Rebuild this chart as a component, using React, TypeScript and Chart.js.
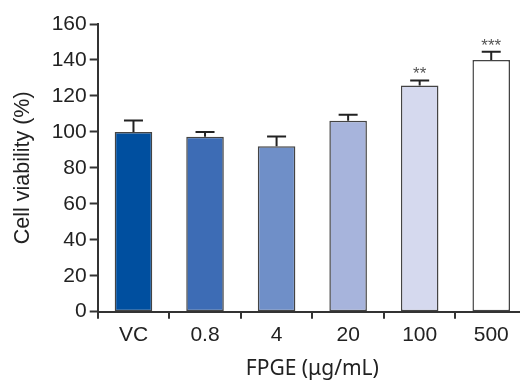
import React, { useEffect, useRef } from 'react';
import { Chart, registerables } from 'chart.js';

Chart.register(...registerables);

const categories = ['VC', '0.8', '4', '20', '100', '500'];
const viability = [100, 97.3, 92, 106.2, 125.8, 140];
const errorUp = [6.3, 2.7, 5.5, 3.3, 2.8, 4.6];
const significance = ['', '', '', '', '**', '***'];
const barColors = ['#004f9f', '#3d6cb5', '#6f8fc8', '#a7b4dc', '#d5d9ee', '#ffffff'];
const yMin = 0;
const yMax = 160;
const yStep = 20;

export default function App() {
  const ref = useRef<HTMLCanvasElement>(null);

  useEffect(() => {
    if (!ref.current) return;
    const errPlugin = {
      id: 'errorBars',
      afterDatasetsDraw(chart: any) {
        const ctx = chart.ctx;
        const x = chart.scales.x;
        const y = chart.scales.y;
        ctx.save();
        ctx.strokeStyle = '#222';
        ctx.lineWidth = 2;
        viability.forEach((v, i) => {
          const px = x.getPixelForValue(i);
          const yb = y.getPixelForValue(v);
          const yt = y.getPixelForValue(v + errorUp[i]);
          ctx.beginPath();
          ctx.moveTo(px, yb);
          ctx.lineTo(px, yt);
          ctx.moveTo(px - 9.5, yt);
          ctx.lineTo(px + 9.5, yt);
          ctx.stroke();
          if (significance[i]) {
            ctx.fillStyle = '#555';
            ctx.font = '17px "Liberation Sans", Arial, sans-serif';
            ctx.textAlign = 'center';
            ctx.textBaseline = 'alphabetic';
            ctx.fillText(significance[i], px, yt - 1);
          }
        });
        ctx.restore();
      },
    };

    const chart = new Chart(ref.current, {
      type: 'bar',
      data: {
        labels: categories,
        datasets: [
          {
            data: viability,
            backgroundColor: barColors,
            borderColor: '#444',
            borderWidth: 1.5,
            borderSkipped: false,
            categoryPercentage: 1,
            barPercentage: 0.525,
          },
        ],
      },
      options: {
        responsive: false,
        animation: false,
        layout: { padding: { top: 24, left: 0, right: 0, bottom: 0 } },
        plugins: { legend: { display: false }, tooltip: { enabled: false } },
        scales: {
          x: {
            grid: {
              offset: true,
              drawOnChartArea: false,
              drawTicks: true,
              tickLength: 7,
              tickWidth: 2,
              tickColor: '#333',
              color: '#333',
              lineWidth: 2,
            },
            border: { color: '#333', width: 2 },
            ticks: {
              color: '#222',
              font: { family: '"Liberation Sans", Arial, sans-serif', size: 21 },
              padding: 4,
              maxRotation: 0,
            },
            title: {
              display: true,
              text: 'FPGE (μg/mL)',
              color: '#222',
              font: { family: '"Noto Sans", sans-serif', size: 21 },
              padding: { top: 0, bottom: 0 },
            },
            afterFit: (s: any) => {
              s.height = 70.3;
            },
          },
          y: {
            min: yMin,
            max: yMax,
            ticks: {
              stepSize: yStep,
              color: '#222',
              font: { family: '"Liberation Sans", Arial, sans-serif', size: 21 },
              padding: 3,
            },
            grid: {
              drawOnChartArea: false,
              tickLength: 8,
              tickWidth: 2,
              tickColor: '#333',
              color: '#333',
            },
            border: { color: '#333', width: 2 },
            title: {
              display: true,
              text: 'Cell viability (%)',
              color: '#222',
              font: { family: '"Liberation Sans", Arial, sans-serif', size: 21.5 },
              padding: { top: 10, bottom: 0 },
            },
            afterFit: (s: any) => {
              s.width = 97.7;
            },
          },
        },
      },
      plugins: [errPlugin],
    });
    return () => chart.destroy();
  }, []);

  return (
    <div
      style={{
        position: 'absolute',
        left: 0,
        top: 0,
        width: 520,
        height: 382,
        overflow: 'hidden',
        background: '#fff',
      }}
    >
      <canvas ref={ref} width={527} height={382} style={{ display: 'block', width: 527, height: 382 }} />
    </div>
  );
}
